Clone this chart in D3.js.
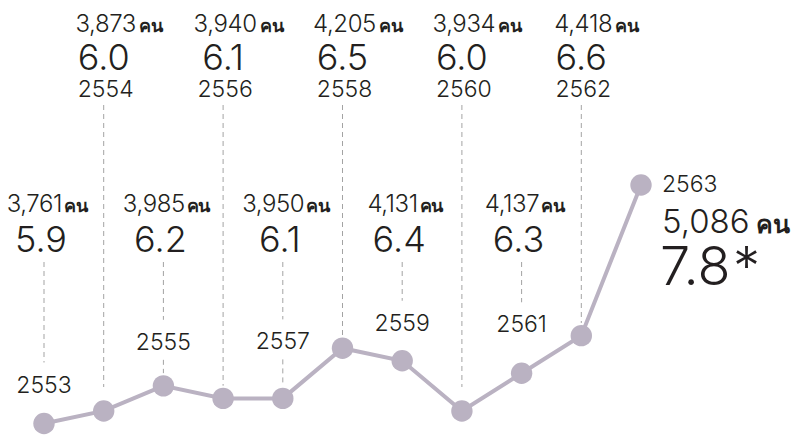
<!DOCTYPE html>
<html>
<head>
<meta charset="utf-8">
<script src="https://cdn.jsdelivr.net/npm/d3@7"></script>
<style>
    body { margin: 0; background: #fff; }
    svg { display: block; font-family: Inter, "Liberation Sans", sans-serif; font-weight: 300; }
    .unit { font-weight: 700; }
</style>
</head>
<body>
<svg class="chart" width="796" height="435">
    <g class="guides"></g>
    <g class="line"></g>
    <g class="dots"></g>
    <g class="labels"></g>
</svg>
<script>
var years = [2553, 2554, 2555, 2556, 2557, 2558, 2559, 2560, 2561, 2562, 2563];
var rates = [5.9, 6.0, 6.2, 6.1, 6.1, 6.5, 6.4, 6.0, 6.3, 6.6, 7.8];
var counts = [3761, 3873, 3985, 3940, 3950, 4205, 4131, 3934, 4137, 4418, 5086];
var unitLabel = 'คน';
var lastNote = '*';

// hand placement of the year label for the low (even) labels, px above the dot
var lowYearLift = { 2553: 31, 2555: 36, 2557: 49, 2559: 30, 2561: 41 };
var lowStemBelow = { 2555: true, 2557: true };

var dotColor = '#bab2c2';
var guideColor = '#a3a3a3';
var textColor = '#231f20';
var r = 10.7;

var data = years.map(function(y, i) {
    return { year: y, rate: rates[i], count: counts[i], i: i };
});

var xScale = d3.scalePoint().domain(years).range([44, 641]);
var yScale = d3.scaleLinear().domain([5.9, 7.8]).range([423.5, 185]);
var fmt = d3.format(',');

var lineGen = d3.line()
    .x(function(d) { return xScale(d.year); })
    .y(function(d) { return yScale(d.rate); });

function dash(g, x, y1, y2) {
    if (y2 - y1 < 4) return;
    g.append('line')
        .attr('x1', x).attr('x2', x)
        .attr('y1', y1).attr('y2', y2)
        .style('stroke', guideColor)
        .style('stroke-width', 1)
        .style('stroke-dasharray', '5,4');
}

function updateLine() {
    d3.select('.chart .line')
        .append('path')
        .datum(data)
        .attr('d', lineGen)
        .style('fill', 'none')
        .style('stroke', dotColor)
        .style('stroke-width', 4);

    d3.select('.chart .dots')
        .selectAll('circle')
        .data(data)
        .join('circle')
        .attr('cx', function(d) { return xScale(d.year); })
        .attr('cy', function(d) { return yScale(d.rate); })
        .attr('r', r)
        .style('fill', dotColor);
}

function highLabel(g, d) {
    var x = xScale(d.year);
    var cy = yScale(d.rate);
    var num = g.append('text')
        .attr('x', x + 2).attr('y', 32)
        .attr('text-anchor', 'middle')
        .style('font-size', '24px')
        .style('letter-spacing', '-0.4px')
        .text(fmt(d.count));
    var w = num.node().getComputedTextLength();
    g.append('text')
        .attr('class', 'unit')
        .attr('x', x + 2 + w / 2 + 3).attr('y', 32)
        .style('font-size', '18px')
        .text(unitLabel);
    g.append('text')
        .attr('x', x).attr('y', 70)
        .attr('text-anchor', 'middle')
        .style('font-size', '36px')
        .text(d3.format('.1f')(d.rate));
    g.append('text')
        .attr('x', x + 2).attr('y', 97)
        .attr('text-anchor', 'middle')
        .style('font-size', '23px')
        .text(d.year);
    dash(d3.select('.chart .guides'), x, 105, Math.min(387, cy - r - 2));
}

function lowLabel(g, d) {
    var x = xScale(d.year);
    var cy = yScale(d.rate);
    var yearY = cy - lowYearLift[d.year];
    var t = g.append('text')
        .attr('x', x + 3).attr('y', 212)
        .attr('text-anchor', 'middle')
        .style('font-size', '24px')
        .style('letter-spacing', '-0.4px');
    t.append('tspan').text(fmt(d.count));
    t.append('tspan').attr('class', 'unit').attr('dx', 2)
        .style('font-size', '18px').text(unitLabel);
    g.append('text')
        .attr('x', x - 3).attr('y', 252)
        .attr('text-anchor', 'middle')
        .style('font-size', '36px')
        .text(d3.format('.1f')(d.rate));
    g.append('text')
        .attr('x', x).attr('y', yearY)
        .attr('text-anchor', 'middle')
        .style('font-size', '23px')
        .text(d.year);
    var guides = d3.select('.chart .guides');
    dash(guides, x, 262, yearY - 30);
    if (lowStemBelow[d.year]) dash(guides, x, yearY + 10, cy - r - 2);
}

function lastLabel(g, d) {
    var x = xScale(d.year) + 21;
    var cy = yScale(d.rate);
    g.append('text')
        .attr('x', x).attr('y', cy + 7)
        .style('font-size', '23px')
        .text(d.year);
    var t = g.append('text')
        .attr('x', x).attr('y', cy + 48)
        .style('font-size', '33px');
    t.append('tspan').text(fmt(d.count));
    t.append('tspan').attr('class', 'unit').attr('dx', 6)
        .style('font-size', '25px').text(unitLabel);
    var v = g.append('text')
        .attr('x', x - 2).attr('y', cy + 100)
        .style('font-size', '54px');
    v.append('tspan').text(d3.format('.1f')(d.rate));
    v.append('tspan').attr('dx', 3).text(lastNote);
}

function updateLabels() {
    var g = d3.select('.chart .labels').style('fill', textColor);
    data.forEach(function(d) {
        if (d.i === data.length - 1) lastLabel(g, d);
        else if (d.i % 2 === 1) highLabel(g, d);
        else lowLabel(g, d);
    });
}

updateLine();
updateLabels();
</script>
</body>
</html>
